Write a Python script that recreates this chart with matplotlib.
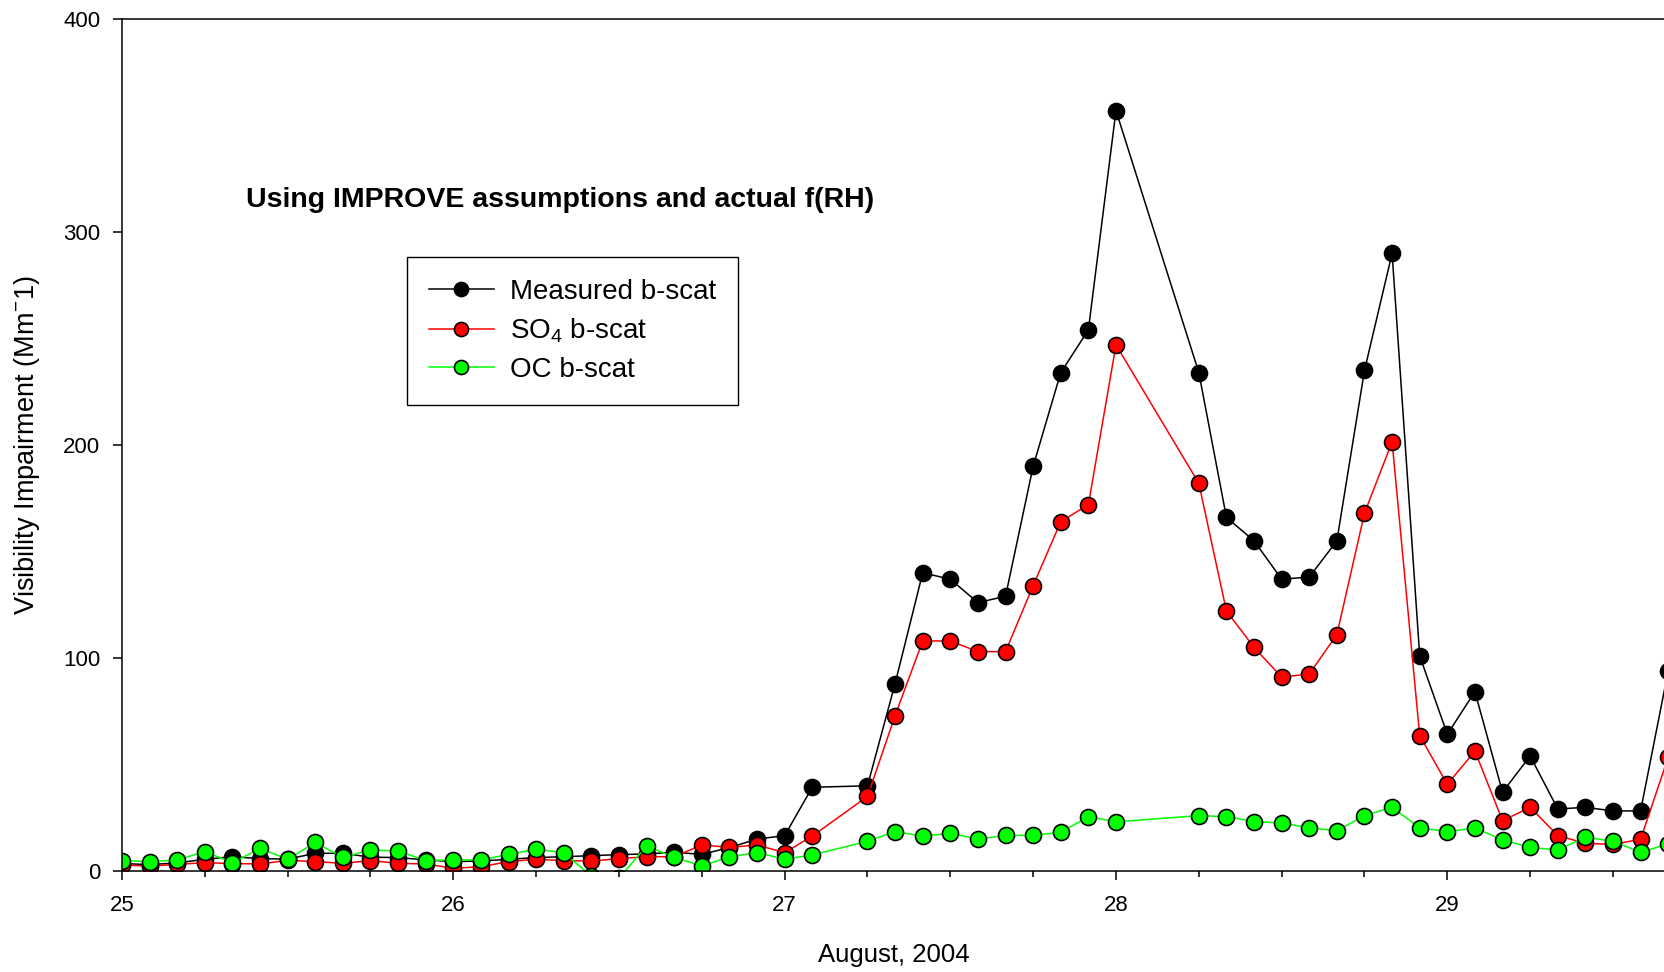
import numpy as np
import matplotlib
matplotlib.use("Agg")
from matplotlib import pyplot as plt

plt.rcParams['font.family'] = ['Liberation Sans', 'DejaVu Sans']
plt.rcParams['mathtext.default'] = 'regular'

# hours after 25 Aug 2004 00:00 (2-hourly, a few samples missing)
hours = [0, 2, 4, 6, 8, 10, 12, 14, 16, 18, 20, 22, 24, 26, 28, 30, 32, 34, 36, 38,
         40, 42, 44, 46, 48, 50, 54, 56, 58, 60, 62, 64, 66, 68, 70, 72,
         78, 80, 82, 84, 86, 88, 90, 92, 94, 96, 98, 100, 102, 104, 106, 108, 110, 112]

measured = [3.5, 3.0, 3.8, 5.5, 6.7, 5.8, 5.6, 8.3, 8.3, 6.5, 6.3, 5.2, 4.4, 4.7, 5.5, 6.3, 6.7, 7.2, 7.7, 8.0,
            8.8, 7.8, 11.0, 15.0, 16.6, 39.3, 40.0, 88, 140, 137, 126, 129, 190, 234, 254, 357,
            234, 166, 155, 137, 138, 155, 235, 290, 101, 64.2, 84.2, 37, 54, 29.1, 29.9, 28.2, 28.2, 94]

so4 = [2.8, 2.3, 3.1, 3.9, 3.5, 3.3, 5.0, 4.4, 3.6, 4.9, 3.6, 3.3, 1.3, 2.0, 4.4, 5.5, 4.9, 4.7, 5.8, 6.7,
       6.7, 12.2, 11.1, 12.2, 8.6, 16.4, 35.0, 73, 108, 108, 103, 103, 134, 164, 172, 247,
       182, 122, 105, 91, 92.5, 111, 168, 201.5, 63.5, 40.7, 56.3, 23.6, 29.9, 16.6, 13, 12.5, 14.9, 53.4]

oc = [4.9, 4.4, 5.2, 9.1, 3.9, 10.6, 5.5, 13.4, 6.4, 9.9, 9.4, 4.9, 5.2, 5.2, 7.8, 10.2, 8.6, -2.5, -3.4, 11.8,
      6.4, 2.3, 6.7, 8.6, 5.6, 7.5, 14.0, 18.5, 16.4, 17.7, 15.0, 16.7, 16.7, 18.2, 25.5, 23.1,
      26, 25.5, 23.2, 22.5, 20.3, 18.9, 26, 29.9, 20.3, 18.5, 20.2, 14.6, 11.1, 9.9, 15.8, 14, 8.8, 12.7]

day = 25 + np.array(hours) / 24.0

W, H = 1665, 972
fig = plt.figure(figsize=(W / 100, H / 100), dpi=100)
ax = fig.add_axes([122 / W, (H - 871) / H, (W - 122) / W, (871 - 19) / H])

style = dict(marker='o', markersize=11.5, markeredgecolor='black', markeredgewidth=1.2, linewidth=1.1)
ax.plot(day, measured, color='black', markerfacecolor='black', label='Measured b-scat', **style)
ax.plot(day, so4, color='#ff0000', markerfacecolor='#ff0000', label='SO$_4$ b-scat', **style)
ax.plot(day, oc, color='#00ff00', markerfacecolor='#00ff00', label='OC b-scat', **style)

ax.set_xlim(25, 29.657)
ax.set_ylim(0, 400)
ax.set_xticks([25, 26, 27, 28, 29])
ax.set_xticks(np.arange(25, 29.66, 0.25), minor=True)
ax.set_yticks([0, 100, 200, 300, 400])
ax.tick_params(axis='both', which='major', direction='out', length=6.5, width=1.1,
               labelsize=16, colors='black')
ax.tick_params(axis='x', which='major', pad=11)
ax.tick_params(axis='y', which='major', pad=9)
ax.tick_params(axis='x', which='minor', direction='out', length=4.5, width=1.1)
for s in ['left', 'bottom', 'top']:
    ax.spines[s].set_linewidth(1.1)
ax.spines['right'].set_visible(False)

ax.set_xlabel('August, 2004', fontsize=18.5, labelpad=19)
ax.set_ylabel('Visibility Impairment (Mm$^{-}$1)', fontsize=19.5, labelpad=15)

ax.text(0.0804, 0.7876, 'Using IMPROVE assumptions and actual f(RH)', transform=ax.transAxes,
        fontsize=20.5, fontweight='bold', ha='left', va='center')

leg = ax.legend(loc='upper left', bbox_to_anchor=(0.1847, 0.7207), borderaxespad=0,
                fontsize=20, frameon=True, fancybox=False, edgecolor='black', framealpha=1,
                handlelength=2.34, handletextpad=0.58, borderpad=0.78, labelspacing=0.43,
                markerscale=0.88)
leg.get_frame().set_linewidth(1.0)

fig.savefig('out.png', dpi=100)
